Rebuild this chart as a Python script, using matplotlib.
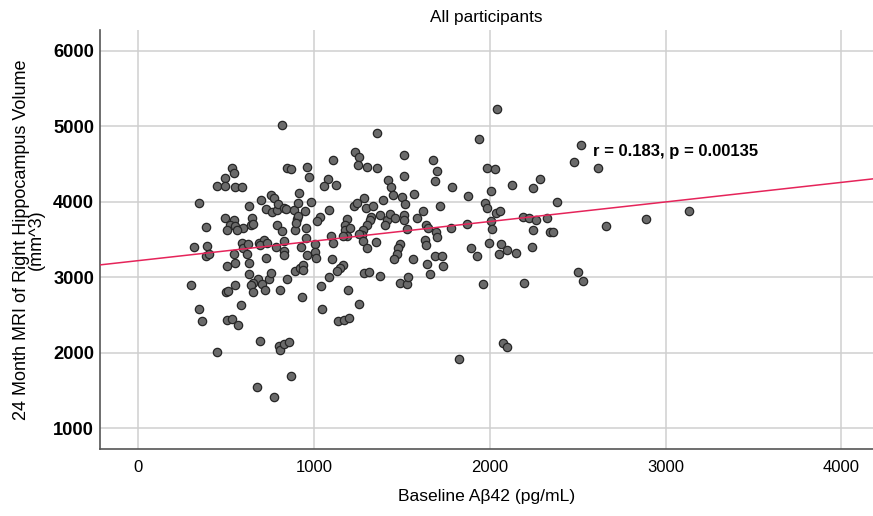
import numpy as np
import matplotlib
matplotlib.use("Agg")
import matplotlib.pyplot as plt

plt.rcParams["font.family"] = ["Liberation Sans", "DejaVu Sans"]

# Baseline Aβ42 (pg/mL) and 24-month right hippocampus volume (mm^3)
abeta = [
    815, 535, 546, 493, 449, 493, 550, 590, 844, 867, 961, 972, 347, 631, 696, 755,
    773, 725, 762, 791, 796, 830, 838, 887, 910, 916, 901, 910, 948, 982, 493, 546,
    522, 550, 645, 639, 594, 654, 385, 503, 560, 787, 819, 891, 897, 954, 954, 317,
    389, 383, 404, 546, 588, 594, 622, 617, 688, 717, 692, 734, 725, 783, 830, 830,
    829, 924, 958, 503, 550, 631, 300, 631, 682, 651, 641, 654, 705, 721, 745, 755,
    550, 499, 512, 806, 844, 891, 920, 938, 935, 933, 584, 347, 364, 503, 531, 569,
    692, 802, 806, 829, 857, 449, 868, 673, 773,
    1356, 1232, 1257, 1251, 1302, 1356, 1106, 1077, 1058, 1124, 1513, 1511, 1674, 1697,
    1687, 1418, 1437, 1447, 1568, 1498, 1517, 1390, 1284, 1293, 1333, 1228, 1242, 1086,
    1033, 1018, 1185, 1176, 1175, 1204, 1185, 1166, 1322, 1318, 1299, 1280, 1270, 1257,
    1375, 1416, 1403, 1431, 1460, 1511, 1511, 1526, 1583, 1617, 1636, 1649, 1630, 1636,
    1693, 1697, 1094, 1106, 1005, 1280, 1299, 1352, 1488, 1479, 1470, 1005, 1100, 1564,
    1687, 1011, 1166, 1147, 1128, 1086, 1037, 1191, 1045, 1257, 1134, 1172, 1197, 1284,
    1314, 1375, 1456, 1488, 1526, 1536, 1640, 1659,
    2038, 1938, 1786, 1985, 2029, 2004, 1875, 2124, 2243, 2284, 1716, 1972, 1985, 2033,
    2057, 2383, 1780, 1871, 2006, 2010, 2186, 2222, 2262, 2323, 2243, 2345, 2360, 1892,
    1928, 1993, 2061, 2053, 2099, 2148, 2239, 1726, 1735, 1959, 2195, 2072, 2095, 1826,
    2518, 2478, 2613, 2660, 2891, 3132, 2502, 2531,
]
volume = [
    5010, 4446, 4380, 4309, 4203, 4203, 4189, 4189, 4446, 4433, 4460, 4327, 3987, 3943,
    4026, 4093, 4049, 3907, 3864, 3894, 3970, 3917, 3903, 3885, 3983, 4115, 3775, 3805,
    3872, 4000, 3784, 3762, 3695, 3682, 3784, 3695, 3652, 3709, 3660, 3620, 3620, 3686,
    3607, 3620, 3718, 3652, 3519, 3395, 3417, 3285, 3311, 3307, 3453, 3387, 3440, 3307,
    3453, 3487, 3421, 3453, 3254, 3395, 3474, 3351, 3298, 3395, 3298, 3143, 3188, 3188,
    2901, 3046, 2976, 2923, 2901, 2799, 2914, 2834, 2976, 3056, 2891, 2804, 2812, 2825,
    2976, 3077, 3122, 3166, 3090, 2738, 2636, 2583, 2415, 2437, 2446, 2367, 2150, 2083,
    2040, 2119, 2142, 2004, 1686, 1546, 1413,
    4910, 4658, 4587, 4481, 4454, 4446, 4556, 4305, 4203, 4221, 4623, 4344, 4556, 4401,
    4269, 4291, 4189, 4093, 4102, 4062, 3970, 4017, 4049, 3917, 3947, 3947, 3983, 3885,
    3797, 3739, 3771, 3695, 3629, 3652, 3540, 3540, 3797, 3752, 3695, 3629, 3563, 3572,
    3828, 3752, 3695, 3841, 3784, 3828, 3762, 3638, 3784, 3881, 3695, 3652, 3497, 3430,
    3593, 3532, 3550, 3453, 3444, 3474, 3387, 3466, 3444, 3387, 3311, 3334, 3241, 3241,
    3275, 3254, 3166, 3122, 3077, 2997, 2887, 2825, 2583, 2649, 2415, 2437, 2454, 3056,
    3064, 3020, 3241, 2923, 2914, 2997, 3179, 3042,
    5228, 4834, 4199, 4450, 4433, 4146, 4079, 4216, 4181, 4301, 3947, 3983, 3917, 3850,
    3881, 3996, 3652, 3709, 3739, 3638, 3797, 3784, 3762, 3779, 3620, 3599, 3599, 3387,
    3285, 3453, 3444, 3311, 3364, 3321, 3404, 3275, 3143, 2914, 2923, 2129, 2070, 1921,
    4755, 4526, 4446, 3682, 3775, 3872, 3064, 2944,
]

# fit line as drawn (intercept, slope)
fit_intercept = 3220
fit_slope = 0.259
stats_text = "r = 0.183, p = 0.00135"

x_lim = (-220, 4180)
y_lim = (722, 6274)
x_ticks = [0, 1000, 2000, 3000, 4000]
y_ticks = [1000, 2000, 3000, 4000, 5000, 6000]

fig = plt.figure(figsize=(8.73, 5.16), dpi=100)
ax = fig.add_axes([0.1142, 0.1293, 0.8858, 0.8126])

ax.set_xlim(*x_lim)
ax.set_ylim(*y_lim)
ax.set_xticks(x_ticks)
ax.set_yticks(y_ticks)
ax.grid(True, color="#cfcfcf", linewidth=1.1)
ax.set_axisbelow(True)

for side in ["top", "right"]:
    ax.spines[side].set_visible(False)
for side in ["left", "bottom"]:
    ax.spines[side].set_color("#555555")
    ax.spines[side].set_linewidth(1.2)
ax.tick_params(length=0)
ax.tick_params(axis="x", pad=8, labelsize=12)
ax.tick_params(axis="y", pad=4, labelsize=13.2)
for lab in ax.get_yticklabels():
    lab.set_fontweight("bold")

ax.scatter(abeta, volume, s=36, facecolor="#6a6a6a", edgecolor="#262626",
           linewidth=0.9, zorder=3)

xs = np.array(x_lim)
ax.plot(xs, fit_intercept + fit_slope * xs, color="#e5245a", linewidth=1.1, zorder=4)

ax.text(2586, 4662, stats_text, fontsize=12, fontweight="bold",
        ha="left", va="center", zorder=5)

ax.set_title("All participants", fontsize=12.4, pad=6)
ax.set_xlabel("Baseline A\u03b242 (pg/mL)", fontsize=12.6, labelpad=10)
ax.set_ylabel("24 Month MRI of Right Hippocampus Volume\n(mm^3)", fontsize=13,
              linespacing=0.85, labelpad=6)

fig.savefig("out.png", dpi=100)
